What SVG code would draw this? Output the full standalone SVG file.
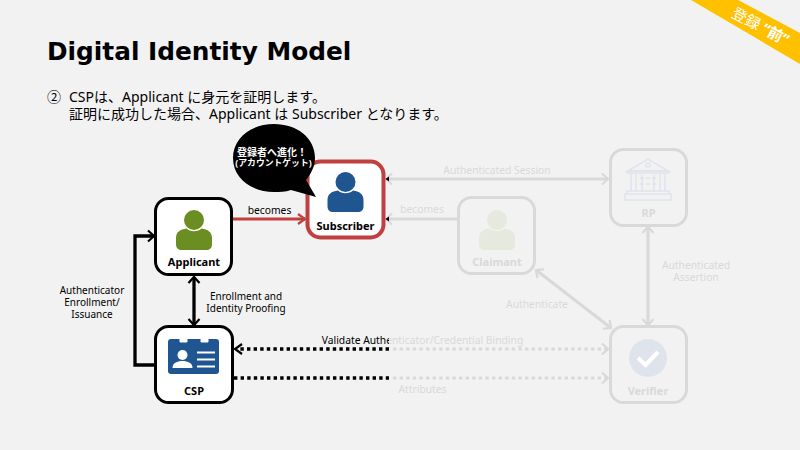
<svg xmlns="http://www.w3.org/2000/svg" width="800" height="450" viewBox="0 0 800 450">
<style>
text{font-family:"Noto Sans","Noto Sans CJK JP",sans-serif;}
.box{fill:#fff;stroke:#000;stroke-width:3}
.gbox{fill:none;stroke:#d9d9d9;stroke-width:3}
.nl{font-size:11px;font-weight:700;text-anchor:middle;fill:#000}
.gl{font-size:11px;font-weight:700;text-anchor:middle;fill:#d9d9d9}
.lb{font-size:10.3px;text-anchor:middle;fill:#000}
.ls{font-size:10px;text-anchor:middle;fill:#000}
.gt{font-size:10.3px;text-anchor:middle;fill:#d9d9d9}
.k{fill:none;stroke:#000;stroke-width:3.300}
.g{fill:none;stroke:#d9d9d9;stroke-width:3}
.dot{stroke-dasharray:3.400 3.200}
.body{font-size:14px;fill:#000}
</style>
<defs>
<marker id="ak" markerUnits="userSpaceOnUse" markerWidth="12" markerHeight="14" refX="9" refY="7" orient="auto-start-reverse"><path d="M3 1.500L9 7L3 12.500" fill="none" stroke="#000" stroke-width="2.200"/></marker>
<marker id="ag" markerUnits="userSpaceOnUse" markerWidth="12" markerHeight="14" refX="9" refY="7" orient="auto-start-reverse"><path d="M3 1.500L9 7L3 12.500" fill="none" stroke="#d9d9d9" stroke-width="2.200"/></marker>
<marker id="ar" markerUnits="userSpaceOnUse" markerWidth="12" markerHeight="14" refX="9" refY="7" orient="auto"><path d="M2 2L9 7L2 12" fill="none" stroke="#c0403f" stroke-width="2.200"/></marker>
<clipPath id="vk"><rect x="300" y="325" width="89" height="30"/></clipPath>
<clipPath id="vg"><rect x="389" y="325" width="200" height="30"/></clipPath>
<path id="person" d="M-7.500 8.500C-14 9.500-18 12-18 18V24C-18 28-16 30-12 30H12C16 30 18 28 18 24V18C18 12 14 9.500 7.500 8.500C4 12-4 12-7.500 8.500Z"/>
</defs>
<rect width="800" height="450" fill="#f2f2f2"/>
<polygon points="691,0 738,0 800,33 800,64" fill="#ffc000"/>
<text transform="translate(758,31) rotate(28)" font-size="15" fill="#fff" text-anchor="middle">登録 <tspan font-weight="700">“前”</tspan></text>
<text x="47" y="60" font-size="24.800" font-weight="700" fill="#000" style="font-family:'DejaVu Sans',sans-serif">Digital Identity Model</text>
<text x="47" y="101.500" class="body">②</text>
<text x="69" y="101.500" class="body">CSPは、Applicant に身元を証明します。</text>
<text x="69" y="119" class="body">証明に成功した場合、Applicant は Subscriber となります。</text>
<g id="connectors">
<path class="g" d="M386 179H608" marker-start="url(#ag)" marker-end="url(#ag)"/>
<path class="g" d="M386 219H458" marker-start="url(#ag)"/>
<path d="M385.500 179L389 176.500V181.500ZM385.500 219L389 216.500V221.500Z" fill="#000"/>
<path class="g" d="M648 227V325" marker-start="url(#ag)" marker-end="url(#ag)"/>
<path class="g" d="M536 270L611 328" marker-start="url(#ag)" marker-end="url(#ag)"/>
<path class="g dot" d="M393 349H608" marker-end="url(#ag)"/>
<path class="g dot" d="M393 378H608" marker-end="url(#ag)"/>
<path class="k dot" d="M389 349H238"/>
<path d="M242 344L235 349L242 354" fill="none" stroke="#000" stroke-width="2.200"/>
<path class="k dot" d="M234 378H389"/>
<path d="M232 219H305" fill="none" stroke="#c0403f" stroke-width="3" marker-end="url(#ar)"/>
<path class="k" d="M155 365H135V236H154" marker-end="url(#ak)"/>
<path class="k" d="M194 277V325" marker-start="url(#ak)" marker-end="url(#ak)"/>
</g>
<g id="labels">
<text x="269.500" y="214" class="lb">becomes</text>
<text x="422" y="213" class="gt">becomes</text>
<text x="497" y="174" class="gt">Authenticated Session</text>
<text x="696" y="269" class="gt">Authenticated</text>
<text x="696" y="281" class="gt">Assertion</text>
<text x="537" y="308" class="gt">Authenticate</text>
<text x="92" y="294" class="ls">Authenticator</text>
<text x="92" y="306" class="ls">Enrollment/</text>
<text x="92" y="318" class="ls">Issuance</text>
<text x="246" y="300" class="ls">Enrollment and</text>
<text x="246" y="312" class="ls">Identity Proofing</text>
<text x="422.500" y="344" class="lb" clip-path="url(#vk)">Validate Authenticator/Credential Binding</text>
<text x="422.500" y="344" class="gt" clip-path="url(#vg)">Validate Authenticator/Credential Binding</text>
<text x="422.500" y="393" class="gt">Attributes</text>
</g>
<g id="applicant">
<rect class="box" x="155.500" y="198.500" width="76" height="76" rx="13"/>
<circle cx="194" cy="220" r="10" fill="#6b8e23"/>
<use href="#person" x="194" y="220" fill="#6b8e23"/>
<text x="194" y="266" class="nl">Applicant</text>
</g>
<g id="subscriber">
<rect x="307.500" y="161.500" width="76" height="76" rx="13" fill="#fff" stroke="#c0403f" stroke-width="4"/>
<circle cx="345.500" cy="182" r="10" fill="#1f5591"/>
<use href="#person" x="345.500" y="182" fill="#1f5591"/>
<text x="345.500" y="230" class="nl">Subscriber</text>
</g>
<g id="bubble">
<path d="M233 158C233 138 251 124 274 124C297 124 315 138 315 158C315 166 311 174 306 180L316 197L291 190C285 192 280 192 274 192C251 192 233 178 233 158Z" fill="#000"/>
<text x="272" y="155.500" font-size="10" font-weight="700" fill="#fff" text-anchor="middle">登録者へ進化！</text>
<text x="273.500" y="165.500" font-size="8.800" font-weight="700" fill="#fff" text-anchor="middle">(アカウントゲット)</text>
</g>
<g id="csp">
<rect class="box" x="155.500" y="326.500" width="77" height="76" rx="13"/>
<rect x="168" y="339" width="51" height="35" rx="3" fill="#1f5591"/>
<path d="M180 339V342H187V339M201 339V342H208V339" fill="#fff" stroke="#fff" stroke-width="1"/>
<circle cx="182.500" cy="355" r="5" fill="#fff"/>
<path d="M172.500 368C172.500 363 177 361 182.500 361C188 361 192.500 363 192.500 368Z" fill="#fff"/>
<path d="M197 352.500H215M197 359.500H215M197 366.500H215" stroke="#fff" stroke-width="2"/>
<text x="194" y="395" class="nl">CSP</text>
</g>
<g id="claimant">
<rect class="gbox" x="458.500" y="197.500" width="76" height="76" rx="13"/>
<circle cx="497" cy="220" r="10" fill="#e6e9de"/>
<use href="#person" x="497" y="220" fill="#e6e9de"/>
<text x="497" y="266" class="gl">Claimant</text>
</g>
<g id="rp">
<rect class="gbox" x="610.500" y="149.500" width="76" height="76" rx="13"/>
<g fill="none" stroke="#dfe4ec" stroke-width="1.500">
<path d="M628 171L648 159L668 171Z"/><circle cx="648" cy="165" r="2"/>
<path d="M627 171H669V173H627ZM631 173V191M636 173V191M660 173V191M665 173V191M642 175V191M654 175V191M646 178H650M646 184H650M652 178H656M640 178H644M640 184H644M652 184H656"/>
<path d="M627 191H669V194H627ZM625 194H671V200H625Z"/>
</g>
<text x="648.500" y="217" class="gl">RP</text>
</g>
<g id="verifier">
<rect class="gbox" x="610.500" y="326.500" width="76" height="76" rx="13"/>
<circle cx="648" cy="358" r="19" fill="#dfe4ec"/>
<path d="M638 358L645.500 365L658 352" fill="none" stroke="#fff" stroke-width="4"/>
<text x="648" y="395" class="gl">Verifier</text>
</g>
</svg>
